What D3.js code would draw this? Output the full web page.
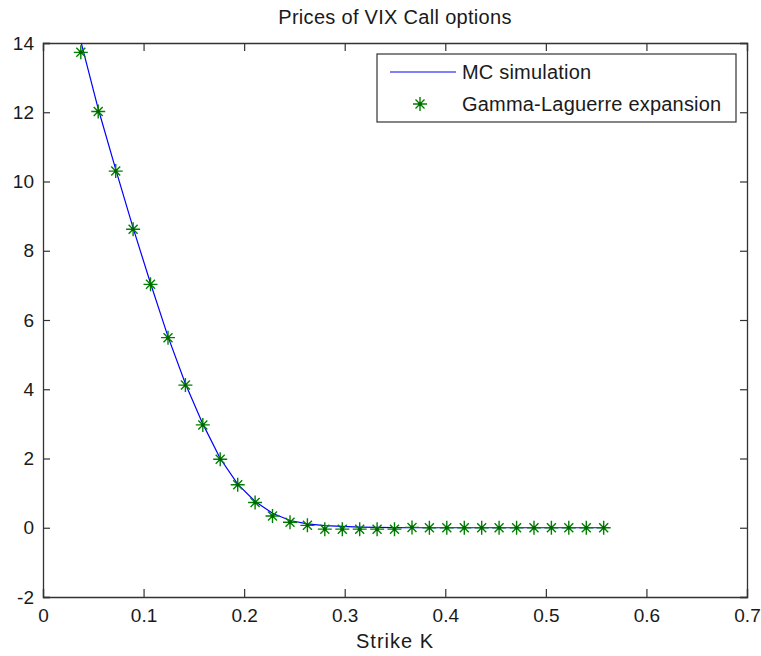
<!DOCTYPE html>
<html>
<head>
<meta charset="utf-8">
<script src="https://cdn.jsdelivr.net/npm/d3@7"></script>
<style>
  body { margin: 0; background: #fff; }
  text { font-family: "Liberation Sans", Arial, sans-serif; fill: #1a1a1a; }
</style>
</head>
<body>
<div id="chart"></div>
<script>
// strike values (shared by both series)
var strikes = [0.0376, 0.0549, 0.0723, 0.0896, 0.1069, 0.1243, 0.1416, 0.1589, 0.1762, 0.1936,
  0.2109, 0.2282, 0.2456, 0.2629, 0.2802, 0.2976, 0.3149, 0.3322, 0.3495, 0.3669,
  0.3842, 0.4015, 0.4189, 0.4362, 0.4535, 0.4709, 0.4882, 0.5055, 0.5228, 0.5402, 0.5575]

// Monte Carlo prices (blue line)
var mcPrices = [14.05, 12.1, 10.35, 8.66, 7.06, 5.52, 4.16, 3.0, 2.0, 1.26,
  0.76, 0.42, 0.21, 0.11, 0.06, 0.04, 0.02, 0.01, 0.005, 0,
  0, 0, 0, 0, 0, 0, 0, 0, 0, 0, 0]

// Gamma-Laguerre expansion prices (green stars)
var glPrices = [13.73, 12.02, 10.3, 8.62, 7.03, 5.49, 4.12, 2.97, 1.98, 1.24,
  0.73, 0.34, 0.16, 0.07, -0.04, -0.04, -0.04, -0.04, -0.04, 0.01,
  0, 0, 0, 0, 0, 0, 0, 0, 0, 0, 0]

var xTicks = [0, 0.1, 0.2, 0.3, 0.4, 0.5, 0.6, 0.7]
var yTicks = [-2, 0, 2, 4, 6, 8, 10, 12, 14]
var seriesNames = ['MC simulation', 'Gamma-Laguerre expansion']

var W = 761, H = 656
var margin = {top: 43, right: 14, bottom: 59, left: 43}
var width = W - margin.left - margin.right
var height = H - margin.top - margin.bottom
var axisColor = '#333'

var x = d3.scaleLinear().domain([0, 0.7]).range([0, width])
var y = d3.scaleLinear().domain([-2, 14]).range([height, 0])

// plain hyphen minus, like matlab
var plain = function (d) { return String(d) }

var svg = d3.select('#chart').append('svg')
  .attr('width', W)
  .attr('height', H)

var g = svg.append('g')
  .attr('transform', 'translate(' + margin.left + ',' + margin.top + ')')

svg.append('defs').append('clipPath').attr('id', 'plotclip')
  .append('rect').attr('width', width).attr('height', height)

// axes with inward ticks, mirrored on top and right
g.append('g')
  .attr('transform', 'translate(0,' + height + ')')
  .call(d3.axisBottom(x).tickValues(xTicks).tickSize(-8).tickPadding(12).tickFormat(plain))
g.append('g')
  .call(d3.axisTop(x).tickValues(xTicks).tickSize(-8).tickFormat(''))
g.append('g')
  .call(d3.axisLeft(y).tickValues(yTicks).tickSize(-7).tickPadding(9).tickFormat(plain))
g.append('g')
  .attr('transform', 'translate(' + width + ',0)')
  .call(d3.axisRight(y).tickValues(yTicks).tickSize(-7).tickFormat(''))

g.selectAll('.domain').attr('stroke', axisColor).attr('stroke-width', 1.3)
g.selectAll('.tick line').attr('stroke', axisColor).attr('stroke-width', 1.2)
g.selectAll('.tick text').style('font-size', '19px').attr('fill', '#1a1a1a')

// MC simulation line
var line = d3.line()
  .x(function (d, i) { return x(strikes[i]) })
  .y(function (d) { return y(d) })

g.append('path')
  .datum(mcPrices)
  .attr('clip-path', 'url(#plotclip)')
  .attr('fill', 'none')
  .attr('stroke', '#0000ff')
  .attr('stroke-width', 1.2)
  .attr('d', line)

// '*' marker: a plus with a smaller cross
function star (sel) {
  sel.append('path')
    .attr('fill', 'none')
    .attr('stroke', '#008000')
    .attr('stroke-width', 1.4)
    .attr('d', 'M-7,0H7M0,-7V7M-4.5,-4.5L4.5,4.5M-4.5,4.5L4.5,-4.5')
  sel.append('circle').attr('r', 1.8).attr('fill', '#006400')
}

g.selectAll('.gl')
  .data(glPrices)
  .enter().append('g')
  .attr('class', 'gl')
  .attr('transform', function (d, i) { return 'translate(' + x(strikes[i]) + ',' + y(d) + ')' })
  .call(star)

// title and label
svg.append('text')
  .attr('x', margin.left + width / 2)
  .attr('y', 24)
  .attr('text-anchor', 'middle')
  .style('font-size', '20px')
  .style('letter-spacing', '0.3px')
  .text('Prices of VIX Call options')

svg.append('text')
  .attr('x', margin.left + width / 2)
  .attr('y', 648)
  .attr('text-anchor', 'middle')
  .style('font-size', '20px')
  .style('letter-spacing', '1px')
  .text('Strike K')

// legend
var legend = svg.append('g').attr('transform', 'translate(377,54)')
legend.append('rect')
  .attr('width', 359)
  .attr('height', 68)
  .attr('fill', '#fff')
  .attr('stroke', axisColor)
  .attr('stroke-width', 1.2)

legend.append('line')
  .attr('x1', 13).attr('x2', 79)
  .attr('y1', 18).attr('y2', 18)
  .attr('stroke', '#0000ff')
  .attr('stroke-width', 1.2)

legend.append('g')
  .attr('transform', 'translate(43,50)')
  .call(star)

legend.selectAll('.ltext')
  .data(seriesNames)
  .enter().append('text')
  .attr('class', 'ltext')
  .attr('x', 85)
  .attr('y', function (d, i) { return 25 + i * 32 })
  .style('font-size', '20px')
  .style('letter-spacing', '0.2px')
  .text(function (d) { return d })
</script>
</body>
</html>
